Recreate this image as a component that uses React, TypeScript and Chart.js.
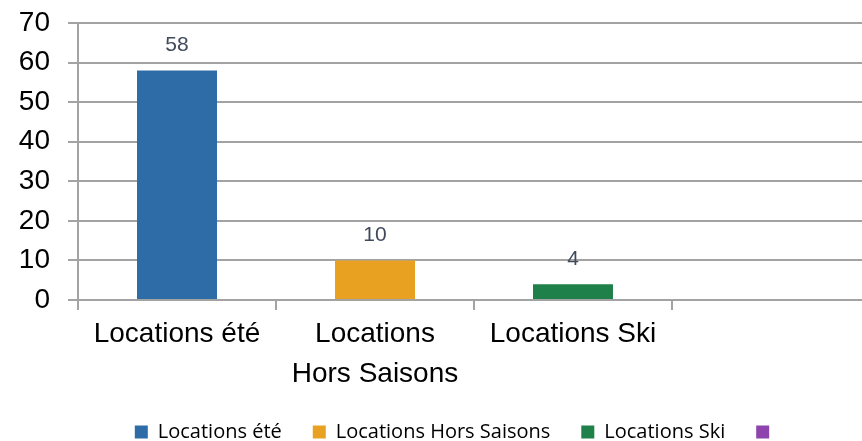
import React, { useEffect, useRef } from 'react';
import { Chart, registerables } from 'chart.js';

Chart.register(...registerables);

const categories = ['Locations été', 'Locations Hors Saisons', 'Locations Ski', ''];
const axisLabels = [['Locations été'], ['Locations', 'Hors Saisons'], ['Locations Ski'], ['']];
const values: (number | null)[] = [58, 10, 4, null];
const barColors = ['#2E6CA8', '#E9A122', '#1F8049', '#8E44AD'];
const yMin = 0;
const yMax = 70;
const yStep = 10;

const LEGEND_FONT = 20;
const LEGEND_PAD = 31;

const valueLabels = {
  id: 'valueLabels',
  afterDatasetsDraw(chart: any) {
    const ctx = chart.ctx;
    const meta = chart.getDatasetMeta(0);
    ctx.save();
    ctx.font = '21px "Liberation Sans", Arial, sans-serif';
    ctx.fillStyle = '#404A5C';
    ctx.textAlign = 'center';
    ctx.textBaseline = 'middle';
    meta.data.forEach((el: any, i: number) => {
      const v = values[i];
      if (v == null) return;
      ctx.fillText(String(v), el.x, el.y - 25);
    });
    ctx.restore();
  },
};

export default function App() {
  const ref = useRef<HTMLCanvasElement>(null);
  useEffect(() => {
    if (!ref.current) return;
    const gridColor = '#a3a3a3';
    const chart = new Chart(ref.current, {
      type: 'bar',
      data: {
        labels: axisLabels,
        datasets: [
          {
            data: values,
            backgroundColor: barColors,
            categoryPercentage: 1,
            barPercentage: 0.404,
          },
        ],
      },
      options: {
        responsive: false,
        animation: false,
        layout: { padding: { left: 0, right: 0, top: 23, bottom: 0 } },
        plugins: {
          tooltip: { enabled: false },
          legend: {
            position: 'bottom',
            onClick: () => {},
            labels: {
              boxWidth: 13,
              boxHeight: 13,
              padding: LEGEND_PAD,
              color: '#262626',
              font: { family: '"Open Sans", "Noto Sans", sans-serif', size: LEGEND_FONT },
              generateLabels: () =>
                categories.map((c, i) => ({
                  text: c,
                  fillStyle: barColors[i],
                  strokeStyle: barColors[i],
                  lineWidth: 0,
                  hidden: false,
                  index: i,
                  datasetIndex: 0,
                })),
            },
          },
        },
        scales: {
          x: {
            afterFit: (s: any) => {
              s.height = 91;
              s.paddingLeft = 0;
              s.paddingRight = 0;
            },
            grid: {
              offset: true,
              drawOnChartArea: false,
              drawTicks: true,
              tickLength: 10,
              color: gridColor,
              lineWidth: 2,
            },
            border: { display: true, color: gridColor, width: 2 },
            ticks: {
              color: '#000',
              padding: 4,
              maxRotation: 0,
              autoSkip: false,
              font: { family: '"Liberation Sans", Arial, sans-serif', size: 28, lineHeight: 1.43 },
            },
          },
          y: {
            min: yMin,
            max: yMax,
            afterFit: (s: any) => {
              s.width = 78;
              s.paddingTop = 0;
              s.paddingBottom = 0;
            },
            grid: {
              color: gridColor,
              lineWidth: 2,
              drawTicks: true,
              tickLength: 10,
            },
            border: { display: true, color: gridColor, width: 2 },
            ticks: {
              stepSize: yStep,
              color: '#000',
              padding: 18,
              font: { family: '"Liberation Sans", Arial, sans-serif', size: 28 },
            },
          },
          yRight: {
            position: 'right',
            display: true,
            afterFit: (s: any) => {
              s.width = 44;
              s.paddingTop = 0;
              s.paddingBottom = 0;
            },
            grid: { display: false, drawTicks: false },
            border: { display: false },
            ticks: { display: false },
          },
        },
      },
      plugins: [valueLabels],
    });
    return () => chart.destroy();
  }, []);

  return (
    <div
      style={{
        position: 'absolute',
        left: 0,
        top: 0,
        width: 862,
        height: 441,
        overflow: 'hidden',
        background: '#fff',
      }}
    >
      <canvas ref={ref} width={914} height={452} style={{ display: 'block' }} />
    </div>
  );
}
